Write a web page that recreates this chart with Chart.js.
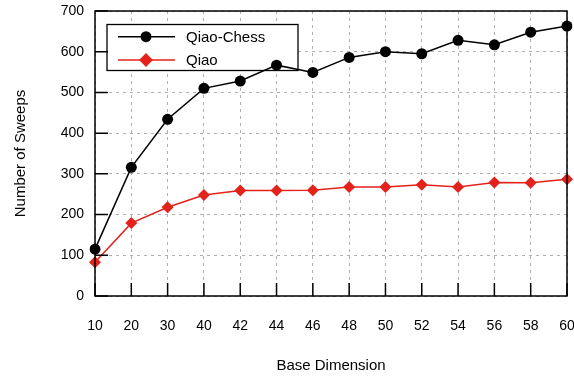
<!DOCTYPE html>
<html><head><meta charset="utf-8">
<script src="https://cdn.jsdelivr.net/npm/chart.js@4/dist/chart.umd.min.js"></script>
<style>html,body{margin:0;padding:0;background:#fff}#wrap{width:574px;height:376px}</style>
</head><body><div id="wrap"><canvas id="c"></canvas></div>
<script>
const dims = ['10','20','30','40','42','44','46','48','50','52','54','56','58','60'];
const qiaoChess = [115, 316, 434, 510, 528, 567, 549, 586, 600, 595, 628, 617, 648, 663];
const qiao = [83, 179, 218, 248, 259, 259, 260, 268, 268, 273, 268, 279, 278, 287];
const yTicks = [0, 100, 200, 300, 400, 500, 600, 700];
const RED = '#e3221b';
const FONT = 'Liberation Sans, Arial, Helvetica, sans-serif';

const frame = {
  id: 'frame',
  beforeDatasetsDraw(chart) {
    const {ctx} = chart;
    ctx.save();
    const lx = 107, ly = 24.5, lw = 191, lh = 46;
    ctx.fillStyle = '#fff';
    ctx.fillRect(lx, ly, lw, lh);
    ctx.strokeStyle = '#000';
    ctx.lineWidth = 1.3;
    ctx.strokeRect(lx, ly, lw, lh);
    chart.data.datasets.forEach((ds, i) => {
      const y = 36.7 + i * 23.3;
      ctx.strokeStyle = ds.borderColor;
      ctx.lineWidth = 1.5;
      ctx.beginPath(); ctx.moveTo(118, y); ctx.lineTo(175, y); ctx.stroke();
      ctx.fillStyle = ds.pointBackgroundColor;
      ctx.beginPath();
      if (ds.pointStyle === 'circle') {
        ctx.arc(146, y, ds.pointRadius, 0, Math.PI * 2);
      } else {
        const r = ds.pointRadius * 1.15;
        ctx.moveTo(146, y - r); ctx.lineTo(146 + r, y); ctx.lineTo(146, y + r); ctx.lineTo(146 - r, y); ctx.closePath();
      }
      ctx.fill();
      ctx.fillStyle = '#000';
      ctx.font = '15px ' + FONT;
      ctx.textBaseline = 'middle';
      ctx.textAlign = 'left';
      ctx.fillText(ds.label, 186, y + 1);
    });
    ctx.restore();
  },
  afterDatasetsDraw(chart) {
    const {ctx, chartArea: a, scales} = chart;
    ctx.save();
    ctx.strokeStyle = '#000';
    ctx.lineWidth = 1.5;
    ctx.beginPath();
    scales.x.ticks.forEach((t, i) => {
      const x = scales.x.getPixelForTick(i);
      ctx.moveTo(x, a.bottom); ctx.lineTo(x, a.bottom - 13);
    });
    scales.y.ticks.forEach((t, i) => {
      const y = scales.y.getPixelForValue(t.value);
      ctx.moveTo(a.left, y); ctx.lineTo(a.left + 13, y);
    });
    ctx.stroke();
    ctx.strokeRect(a.left, a.top, a.right - a.left, a.bottom - a.top);
    ctx.restore();
  }
};

new Chart(document.getElementById('c'), {
  type: 'line',
  data: {
    labels: dims,
    datasets: [
      { label: 'Qiao-Chess', data: qiaoChess, borderColor: '#000', backgroundColor: '#000',
        pointBackgroundColor: '#000', pointBorderColor: '#000', pointStyle: 'circle',
        pointRadius: 5.5, borderWidth: 1.5, pointBorderWidth: 0, tension: 0 },
      { label: 'Qiao', data: qiao, borderColor: RED, backgroundColor: RED,
        pointBackgroundColor: RED, pointBorderColor: RED, pointStyle: 'rectRot',
        pointRadius: 6, borderWidth: 1.5, pointBorderWidth: 0, tension: 0 }
    ]
  },
  options: {
    responsive: true, maintainAspectRatio: false, animation: false,
    layout: { padding: { top: 11, right: 7, left: 0, bottom: 0 } },
    plugins: { legend: { display: false }, tooltip: { enabled: false } },
    elements: { point: { borderWidth: 0 } },
    scales: {
      x: {
        type: 'category', offset: false,
        grid: { color: '#b0b0b0', lineWidth: 1, drawTicks: false, tickLength: 0 },
        border: { display: false, dash: [3, 4] },
        ticks: { color: '#000', font: { family: FONT, size: 14 }, padding: 22, maxRotation: 0, autoSkip: false },
        title: { display: true, text: 'Base Dimension', color: '#000', font: { family: FONT, size: 15 }, padding: { top: 0, bottom: 1 } },
        afterFit(s) { s.height = 80; s.paddingLeft = 0; s.paddingRight = 0; }
      },
      y: {
        min: 0, max: 700,
        grid: { color: '#b0b0b0', lineWidth: 1, drawTicks: false, tickLength: 0 },
        border: { display: false, dash: [3, 4] },
        ticks: { stepSize: 100, color: '#000', font: { family: FONT, size: 14 }, padding: 11 },
        afterBuildTicks(s) { s.ticks = yTicks.map(v => ({ value: v })); },
        title: { display: true, text: 'Number of Sweeps', color: '#000', font: { family: FONT, size: 15 }, padding: { top: 12, bottom: 0 } },
        afterFit(s) { s.width = 95; s.paddingTop = 0; s.paddingBottom = 0; }
      }
    }
  },
  plugins: [frame]
});
</script></body></html>
